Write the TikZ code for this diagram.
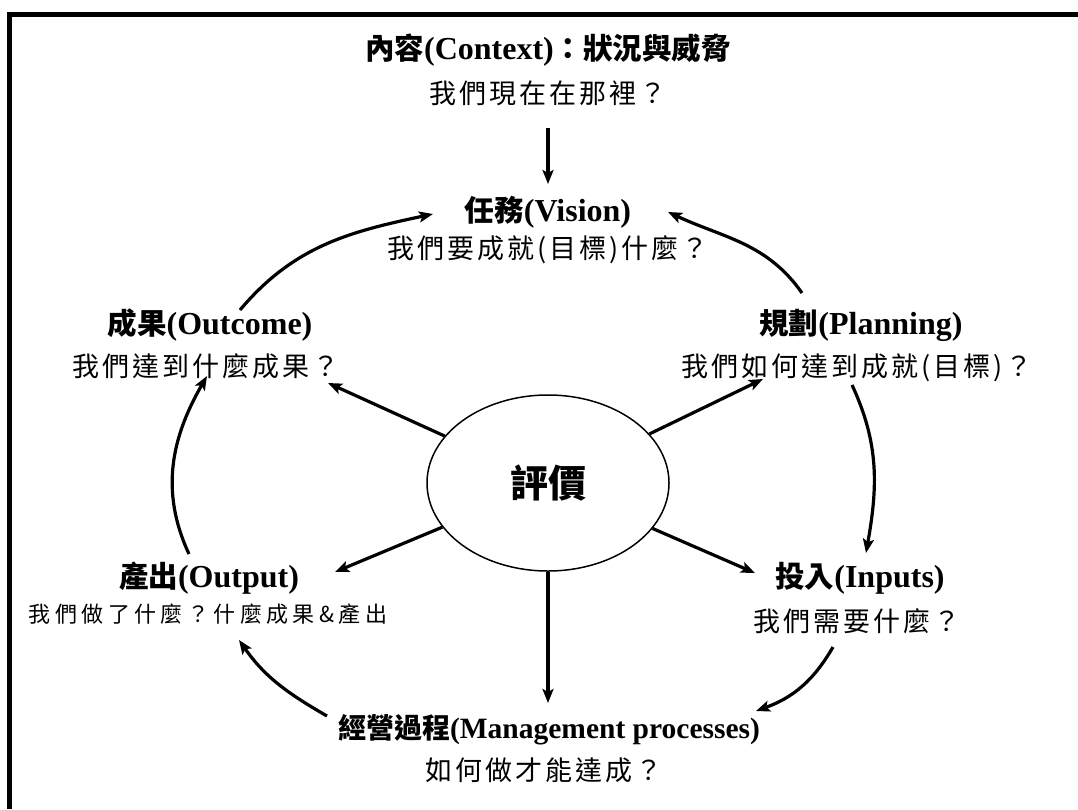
\documentclass[tikz,border=0pt]{standalone}
\usepackage{fontspec}
\setmainfont{Liberation Serif}
\newfontfamily\cjk{Noto Sans CJK TC}
\usetikzlibrary{arrows.meta,shapes.geometric}
\newcommand\tcj[1]{{\cjk\bfseries\fontsize{29.5}{32}\selectfont #1}}
\newcommand\tla[1]{{\bfseries\fontsize{32}{34}\selectfont #1}}
\newcommand\subq[1]{{\cjk\addfontfeature{LetterSpace=11}\fontsize{27}{30}\selectfont #1}}
\newcommand\subsm[1]{{\cjk\addfontfeature{LetterSpace=20}\fontsize{22}{24}\selectfont #1}}
\tikzset{
  arr/.style={line width=3.2pt,-{Stealth[length=14pt,width=11pt,inset=3pt]}},
  lbl/.style={inner sep=0pt,anchor=center},
  frameline/.style={line width=5pt,black}
}
\begin{document}
\begin{tikzpicture}[x=1pt,y=-1pt]
\useasboundingbox (0,0) rectangle (1078,809);
% frame (top and left edges)
\coordinate (f1) at (1078,14.5);
\coordinate (f2) at (9.5,14.5);
\coordinate (f3) at (9.5,809);
\draw[frameline] (f1) -- (f2) -- (f3);

% texts
\node[lbl] (ctxT) at (548,50) {\tcj{內容}\tla{(Context)}\tcj{：狀況與威脅}};
\node[lbl] (ctxS) at (548,93) {\subq{我們現在在那裡？}};
\node[lbl] (visT) at (548,212) {\tcj{任務}\tla{(Vision)}};
\node[lbl] (visS) at (548,250) {\subq{我們要成就(目標)什麼？}};
\node[lbl] (ocT) at (210,325) {\tcj{成果}\tla{(Outcome)}};
\node[lbl] (ocS) at (206,366) {\subq{我們達到什麼成果？}};
\node[lbl] (plT) at (861,325) {\tcj{規劃}\tla{(Planning)}};
\node[lbl] (plS) at (857,368) {\subq{我們如何達到成就(目標)？}};
\node[lbl] (outT) at (209,578) {\tcj{產出}\tla{(Output)}};
\node[lbl] (outS) at (208,614) {\subsm{我們做了什麼？什麼成果\&產出}};
\node[lbl] (inT) at (860,578) {\tcj{投入}\tla{(Inputs)}};
\node[lbl] (inS) at (857,621) {\subq{我們需要什麼？}};
\node[lbl] (mgT) at (549,730) {{\cjk\bfseries\fontsize{28}{30}\selectfont 經營過程}{\bfseries\fontsize{29.5}{32}\selectfont (Management processes)}};
\node[lbl] (mgS) at (544,770) {\subq{如何做才能達成？}};

% central ellipse
\node[draw,ellipse,line width=1.5pt,minimum width=242pt,minimum height=176pt,inner sep=0pt]
  (ev) at (548,483) {\cjk\bfseries\fontsize{38}{40}\selectfont 評價};

% arrow endpoints
\coordinate (a1s) at (548,128);  \coordinate (a1e) at (548,184);
\coordinate (b1s) at (240,310);  \coordinate (b1e) at (433,214);
\coordinate (b2s) at (802,293);  \coordinate (b2e) at (668,212);
\coordinate (b3s) at (852,385);  \coordinate (b3e) at (866,553);
\coordinate (b4s) at (833,647);  \coordinate (b4e) at (756,711);
\coordinate (b5s) at (327,716);  \coordinate (b5e) at (239,640);
\coordinate (b6s) at (189,554);  \coordinate (b6e) at (207,376);
\coordinate (s1) at (328,383);
\coordinate (s2) at (763,379);
\coordinate (s3) at (335,572);
\coordinate (s4) at (755,573);
\coordinate (s5) at (548,703);

% context -> vision
\draw[arr] (a1s) -- (a1e);
% cycle
\draw[arr] (b1s) to[out=50,in=192] (b1e);
\draw[arr] (b2s) to[out=125,in=-25] (b2e);
\draw[arr] (b3s) to[out=-65,in=80] (b3e);
\draw[arr] (b4s) to[out=-120,in=20] (b4e);
\draw[arr] (b5s) to[out=150,in=-55] (b5e);
\draw[arr] (b6s) to[out=115,in=-120] (b6e);
% spokes
\draw[arr] (ev) -- (s1);
\draw[arr] (ev) -- (s2);
\draw[arr] (ev) -- (s3);
\draw[arr] (ev) -- (s4);
\draw[arr] (ev) -- (s5);
\end{tikzpicture}
\end{document}
